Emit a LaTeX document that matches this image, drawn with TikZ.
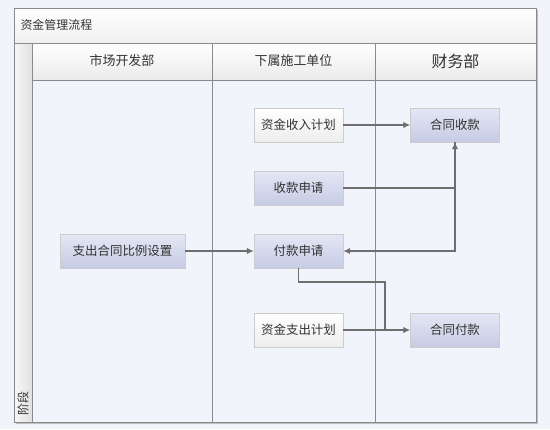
\documentclass[tikz,border=0pt]{standalone}
\usepackage{fontspec}
\setmainfont{Noto Sans CJK SC}
\usepackage{xcolor}
\definecolor{pagebg}{HTML}{F1F5FB}
\definecolor{framegray}{HTML}{8A8A8A}
\definecolor{linegray}{HTML}{6E6E6E}
\definecolor{boxtop}{HTML}{E4E7F4}
\definecolor{boxbot}{HTML}{C6CBE4}
\usetikzlibrary{positioning,arrows.meta}
\tikzset{
  bbox/.style ={rectangle, draw=black!20, top color=boxtop, bottom color=boxbot,
                minimum width=89bp, minimum height=34bp, inner sep=2pt,
                font=\fontsize{12.5}{14}\selectfont, text=black!80},
  wbox/.style ={bbox, top color=white, bottom color=black!7},
  arr/.style  ={-{Latex[length=7bp,width=6.5bp]}, draw=linegray, line width=1.3bp},
  conn/.style ={draw=linegray, line width=1.3bp},
  hdr/.style  ={font=\fontsize{13}{15}\selectfont, text=black!80},
  lane/.style ={draw=framegray, line width=0.9bp},
}
\begin{document}
\begin{tikzpicture}[x=1bp, y=-1bp]
  \fill[pagebg] (0,0) rectangle (550,429);
  \useasboundingbox (0,0) rectangle (550,429);
  % pool frame
  \fill[black!25] (16,10) rectangle (538,424);
  \fill[pagebg] (14,8) rectangle (536,422);
  \shade[top color=white, bottom color=black!6] (14,8) rectangle (536,43);
  \shade[top color=white, bottom color=black!8] (32,43) rectangle (536,80);
  \shade[left color=black!3, right color=black!12] (14,43) rectangle (32,422);
  \draw[lane] (14,8) rectangle (536,422);
  \draw[lane] (14,43) -- (536,43);
  \draw[lane] (32,80) -- (536,80);
  \draw[lane] (32,43) -- (32,422);
  \draw[lane] (212,43) -- (212,422);
  \draw[lane] (375,43) -- (375,422);
  \node[hdr, anchor=west, font=\fontsize{12}{14}\selectfont] (title) at (17,25) {资金管理流程};
  \node[hdr] (scb) at (122,61) {市场开发部};
  \node[hdr] (sgdw) at (293.5,61) {下属施工单位};
  \node[hdr, font=\fontsize{16}{18}\selectfont] (cwb) at (455.5,61) {财务部};
  \node[hdr, rotate=90, anchor=west, font=\fontsize{12}{14}\selectfont] (jd) at (23,419) {阶段};
  % boxes
  \node[wbox] (srjh) at (298.5,125) {资金收入计划};
  \node[bbox] (htsk) at (455,125) {合同收款};
  \node[bbox] (sksq) at (298.5,188) {收款申请};
  \node[bbox, minimum width=125bp] (blsz) at (122.5,251) {支出合同比例设置};
  \node[bbox] (fksq) at (298.5,251) {付款申请};
  \node[wbox] (zcjh) at (298.5,330) {资金支出计划};
  \node[bbox] (htfk) at (455,330) {合同付款};
  % connectors
  \draw[arr] (srjh) -- (htsk);
  \draw[arr] (sksq) -| (htsk);
  \draw[arr] (htsk.south) |- (fksq);
  \draw[arr] (blsz) -- (fksq);
  \draw[arr] (zcjh) -- (htfk);
  \coordinate (bend) at (385,282);
  \draw[conn] (fksq.south) |- (bend) -- (bend |- htfk.west);
\end{tikzpicture}
\end{document}
